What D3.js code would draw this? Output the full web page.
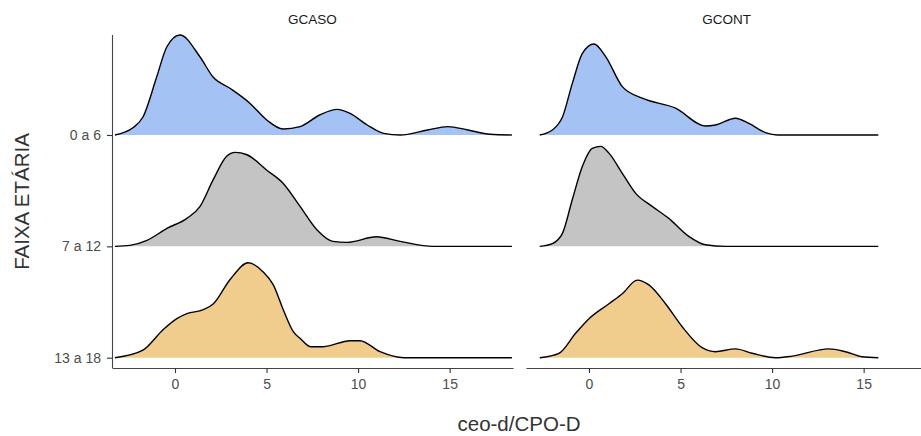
<!DOCTYPE html>
<html>
<head>
<meta charset="utf-8">
<script src="https://cdn.jsdelivr.net/npm/d3@7"></script>
<style>
	body { margin: 0; background: #fff; }
	svg { display: block; font-family: "Liberation Sans", Arial, sans-serif; }
	.tick-label { fill: #4d4d4d; font-size: 14px; }
	.axis-title { fill: #333; font-size: 20.5px; }
	.strip-label { fill: #1a1a1a; font-size: 13.5px; }
</style>
</head>
<body>
<div id="chart"></div>
<script>

////////////////////////////////////////////////////////////
///////////////////////// Data /////////////////////////////
////////////////////////////////////////////////////////////

var groups = ["GCASO", "GCONT"];
var ageBands = ["13 a 18", "7 a 12", "0 a 6"];	//bottom to top
var xTicks = [0, 5, 10, 15];

var bandColors = { "0 a 6": "#a4c2f4", "7 a 12": "#c4c4c4", "13 a 18": "#f0cd8d" };

//[ceo-d/CPO-D, density]
var gcaso0a6 = [[-3.28,0],[-2.3,0.018],[-1.75,0.045],[-1.0,0.145],[-0.45,0.22],[0.27,0.25],[1.37,0.195],[2.08,0.145],
	[3.0,0.117],[4.1,0.079],[5.0,0.038],[5.9,0.015],[6.83,0.021],[7.9,0.05],[8.85,0.064],[9.56,0.054],[10.5,0.025],
	[11.4,0.004],[12.3,0],[13.8,0.0125],[14.9,0.021],[16.0,0.0125],[17.2,0.002],[18.4,0]];
var gcaso7a12 = [[-3.28,0],[-2.46,0.0025],[-1.53,0.015],[-0.44,0.045],[0.65,0.07],[1.37,0.1],[2.08,0.166],[2.82,0.225],
	[3.28,0.235],[3.93,0.229],[5.0,0.191],[5.9,0.158],[6.83,0.1],[7.76,0.041],[8.63,0.0125],[9.4,0.01],[11.0,0.024],
	[12.3,0.0125],[14.1,0],[18.4,0]];
var gcaso13a18 = [[-3.28,0],[-1.75,0.019],[-0.65,0.07],[0.1,0.0975],[0.65,0.11],[1.55,0.12],[2.1,0.135],[3.0,0.195],
	[4.0,0.2375],[4.8,0.215],[5.37,0.182],[5.92,0.119],[6.46,0.065],[6.83,0.0485],[7.4,0.0275],[8.1,0.0275],[9.56,0.0425],
	[10.1,0.0425],[11.2,0.015],[12.5,0],[18.4,0]];

var gcont0a6 = [[-2.69,0],[-2.0,0.0125],[-1.45,0.045],[-0.91,0.129],[-0.36,0.204],[0.27,0.2275],[0.91,0.196],[1.82,0.121],
	[2.91,0.092],[4.73,0.067],[6.36,0.0225],[6.91,0.025],[8.0,0.042],[8.73,0.029],[9.64,0.006],[10.3,0],[15.8,0]];
var gcont7a12 = [[-2.69,0],[-2.0,0.007],[-1.45,0.0325],[-0.91,0.117],[-0.36,0.2],[0.18,0.245],[0.64,0.25],[1.09,0.233],
	[1.82,0.1825],[2.55,0.1325],[3.45,0.1],[4.36,0.07],[5.45,0.025],[6.36,0.004],[7.45,0],[15.8,0]];
var gcont13a18 = [[-2.69,0],[-1.64,0.011],[-0.73,0.061],[0,0.0975],[1.09,0.135],[1.82,0.16],[2.64,0.194],[3.27,0.182],
	[4.18,0.135],[5.09,0.0775],[6.18,0.025],[6.91,0.015],[8.0,0.022],[8.91,0.011],[10.18,0],[11.1,0.004],[13.1,0.022],
	[14.0,0.015],[14.9,0.0025],[15.8,0]];

var densities = {
	"GCASO": { "0 a 6": gcaso0a6, "7 a 12": gcaso7a12, "13 a 18": gcaso13a18 },
	"GCONT": { "0 a 6": gcont0a6, "7 a 12": gcont7a12, "13 a 18": gcont13a18 }
};

////////////////////////////////////////////////////////////
///////////////////////// Setup ////////////////////////////
////////////////////////////////////////////////////////////

var width = 921,
	height = 436;

var panelTop = 35,
	panelBottom = 368,
	panelWidth = 401,
	panelLefts = [112, 526];

var svg = d3.select("#chart").append("svg")
	.attr("width", width)
	.attr("height", height);

//Shared scales
var x = d3.scaleLinear()
	.domain([-3.44, 18.46])
	.range([0, panelWidth]);

var yBase = d3.scalePoint()
	.domain(ageBands)
	.range([357.7, 135]);

var yHeight = d3.scaleLinear()
	.domain([0, 1])
	.range([0, 400]);

////////////////////////////////////////////////////////////
/////////////////////// Panels /////////////////////////////
////////////////////////////////////////////////////////////

groups.forEach(function(g, gi) {

	var panel = svg.append("g")
		.attr("transform", "translate(" + panelLefts[gi] + ",0)");

	//Strip label
	panel.append("text")
		.attr("class", "strip-label")
		.attr("x", panelWidth/2)
		.attr("y", 24)
		.style("text-anchor", "middle")
		.text(g);

	//Draw top ridge first so lower ones overlap it
	ageBands.slice().reverse().forEach(function(band) {
		var base = yBase(band);
		var data = densities[g][band];

		var area = d3.area()
			.curve(d3.curveMonotoneX)
			.x(function(d) { return x(d[0]); })
			.y0(base)
			.y1(function(d) { return base - yHeight(d[1]); });

		var line = d3.line()
			.curve(d3.curveMonotoneX)
			.x(function(d) { return x(d[0]); })
			.y(function(d) { return base - yHeight(d[1]); });

		panel.append("path")
			.datum(data)
			.attr("d", area)
			.style("fill", bandColors[band]);

		panel.append("path")
			.datum(data)
			.attr("d", line)
			.style("fill", "none")
			.style("stroke", "#000")
			.style("stroke-width", 1.4);
	});

	//x axis
	var xAxis = panel.append("g")
		.attr("transform", "translate(0," + panelBottom + ")")
		.call(d3.axisBottom(x).tickValues(xTicks).tickSize(5).tickPadding(6).tickSizeOuter(0));

	xAxis.select(".domain").style("stroke", "#444").style("stroke-width", 1.1);
	xAxis.selectAll(".tick line").style("stroke", "#333").style("stroke-width", 1.1);
	xAxis.selectAll(".tick text")
		.attr("class", "tick-label")
		.style("fill", "#4d4d4d");

	//y axis only on the first panel
	if (gi === 0) {
		var yAxis = panel.append("g")
			.call(d3.axisLeft(yBase).tickSize(5).tickPadding(6).tickSizeOuter(0));

		yAxis.select(".domain")
			.attr("d", "M0.5," + panelTop + "V" + panelBottom)
			.style("stroke", "#444").style("stroke-width", 1.1);
		yAxis.selectAll(".tick line").style("stroke", "#333").style("stroke-width", 1.1);
		yAxis.selectAll(".tick text")
			.attr("class", "tick-label")
			.style("fill", "#4d4d4d");
	}
});

//d3 axis sets font attributes on the group, clear them so css applies
svg.selectAll("g").attr("font-size", null).attr("font-family", null);

////////////////////////////////////////////////////////////
/////////////////////// Axis titles ////////////////////////
////////////////////////////////////////////////////////////

svg.append("text")
	.attr("class", "axis-title")
	.attr("x", 519)
	.attr("y", 431)
	.style("text-anchor", "middle")
	.text("ceo-d/CPO-D");

svg.append("text")
	.attr("class", "axis-title")
	.attr("transform", "translate(29," + (panelTop + panelBottom)/2 + ") rotate(-90)")
	.style("text-anchor", "middle")
	.text("FAIXA ETÁRIA");

</script>
</body>
</html>
